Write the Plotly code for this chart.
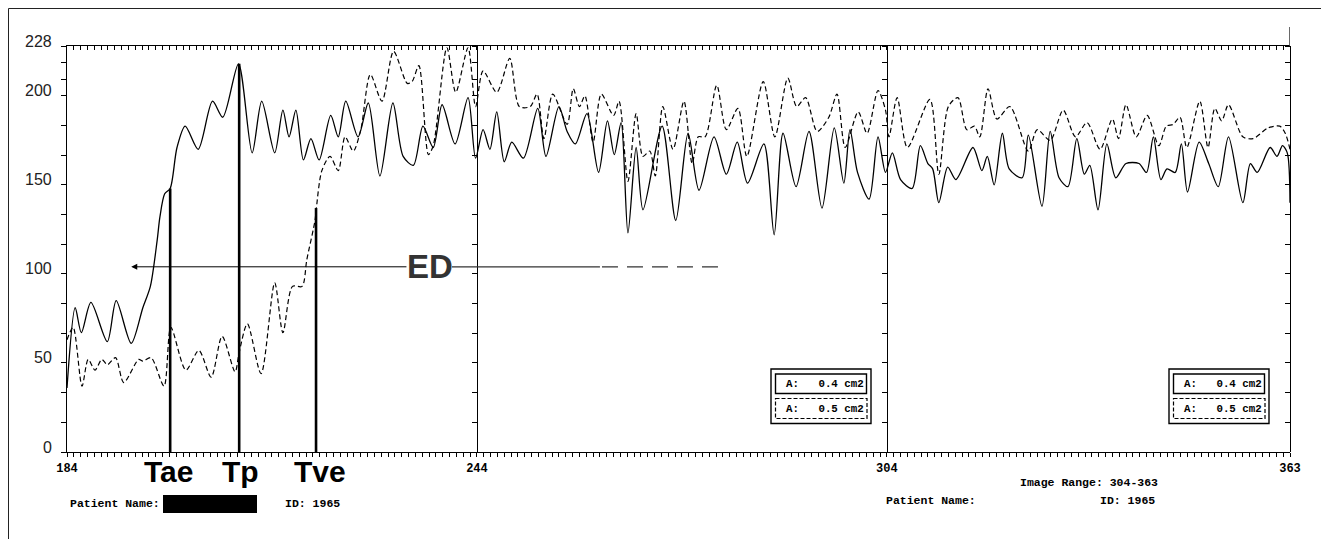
import plotly.graph_objects as go

# ---------------- data ----------------
solid_x = [184.0, 185.2, 186.1, 187.5, 189.9, 191.2, 193.4, 195.1, 196.2, 197.2, 197.6, 198.3, 199.1,
           200.1, 201.3, 203.2, 205.3, 206.8, 209.1, 211.1, 212.5, 214.4, 215.6, 216.5, 217.5, 218.6,
           219.7, 220.9, 222.6, 223.7, 224.8, 226.6, 228.1, 229.8, 231.7, 233.2, 234.7, 236.1, 237.6,
           238.9, 240.8, 242.7, 243.8, 244.9, 245.9, 246.9, 248.0, 249.1, 250.8, 252.9, 254.1, 256.0,
           257.2, 258.4, 260.1, 261.8, 263.1, 264.1, 265.1, 266.1, 267.3, 268.3, 271.1, 273.1, 274.9,
           276.5, 278.7, 280.5, 282.1, 283.6, 286.0, 287.5, 288.8, 290.7, 292.6, 294.5, 296.3, 297.7,
           298.6, 299.7, 301.4, 302.7, 303.8, 304.8, 306.0, 307.7, 308.9, 310.0, 310.7, 311.6, 312.9,
           314.1, 316.6, 317.9, 318.7, 319.7, 320.9, 321.9, 323.8, 324.7, 326.7, 327.9, 329.2, 330.5,
           331.8, 332.9, 333.7, 334.9, 336.2, 337.5, 339.0, 340.9, 342.0, 343.0, 344.1, 345.0, 346.2,
           347.1, 348.0, 349.7, 351.1, 352.5, 354.0, 356.1, 357.2, 358.2, 360.1, 361.1, 361.9, 362.6,
           363.0]
solid_y = [36, 81, 67, 84, 62, 85, 61, 81, 93, 119, 132, 145, 148,
           171, 183, 170, 197, 188, 218, 168, 197, 168, 192, 177, 192, 164,
           176, 164, 189, 177, 197, 177, 196, 155, 196, 166, 161, 183, 171,
           195, 173, 199, 165, 181, 170, 191, 163, 174, 165, 193, 166, 194,
           180, 173, 190, 157, 186, 167, 185, 123, 171, 136, 183, 130, 179,
           147, 177, 156, 174, 151, 173, 122, 179, 149, 180, 137, 182, 151,
           181, 157, 142, 177, 157, 168, 153, 148, 172, 162, 159, 140, 160,
           153, 171, 158, 166, 150, 179, 159, 154, 178, 138, 180, 154, 149,
           176, 156, 161, 136, 173, 154, 162, 162, 157, 177, 153, 159, 157,
           173, 146, 174, 162, 149, 177, 140, 162, 157, 171, 166, 172, 168,
           140]

dashed_x = [184.0, 184.9, 186.2, 187.1, 188.1, 189.1, 189.9, 191.1, 192.3, 194.5, 195.1, 196.3, 198.2,
            199.2, 201.4, 203.3, 205.1, 206.7, 208.6, 209.2, 210.4, 212.4, 214.4, 215.6, 217.0, 218.4,
            219.1, 220.3, 220.5, 221.3, 222.5, 223.7, 224.7, 225.9, 227.0, 228.4, 230.1, 231.8, 233.8,
            234.5, 235.5, 236.9, 237.6, 239.6, 240.9, 242.7, 243.8, 244.9, 246.9, 248.8, 250.2, 251.8,
            252.8, 253.8, 255.1, 257.2, 258.1, 259.0, 259.8, 261.0, 262.2, 264.0, 264.8, 266.1, 267.3,
            268.3, 269.3, 270.1, 271.2, 272.7, 274.3, 275.5, 276.4, 277.4, 279.1, 280.5, 282.2, 283.5,
            285.9, 287.6, 289.5, 290.8, 292.1, 293.8, 295.5, 296.7, 297.9, 299.8, 301.1, 302.7, 303.8,
            304.3, 305.5, 307.0, 310.3, 311.6, 313.0, 314.4, 315.7, 316.8, 317.6, 318.8, 320.1, 322.0,
            324.7, 326.0, 327.9, 329.8, 331.6, 333.3, 335.2, 337.0, 337.9, 339.0, 340.5, 342.1, 343.8,
            344.9, 345.9, 346.9, 347.9, 349.8, 351.0, 352.0, 353.0, 354.0, 356.1, 357.6, 359.8, 361.5,
            362.3, 363.0]
dashed_y = [63, 70, 37, 52, 46, 52, 49, 53, 39, 52, 51, 53, 37,
            70, 46, 57, 42, 65, 45, 56, 72, 44, 95, 67, 93, 93,
            108, 130, 137, 158, 166, 158, 177, 169, 181, 212, 197, 225, 207,
            208, 217, 167, 172, 227, 202, 227, 194, 214, 202, 221, 194, 194,
            201, 176, 201, 184, 204, 194, 200, 174, 201, 189, 197, 152, 190,
            166, 169, 155, 194, 170, 197, 162, 177, 177, 206, 181, 193, 166,
            208, 177, 210, 194, 199, 180, 188, 201, 171, 191, 179, 203, 192,
            177, 199, 171, 198, 156, 194, 199, 181, 183, 177, 204, 187, 194,
            169, 181, 175, 192, 177, 185, 170, 187, 176, 195, 177, 189, 172,
            183, 184, 188, 171, 197, 171, 193, 186, 195, 177, 176, 182, 183,
            179, 170]

marker_names = ["Tae", "Tp", "Tve"]
marker_x = [199.1, 209.2, 220.45]
marker_top = [148, 218, 137]

ed_level = 104
ed_arrow_tip = 193.4
ed_arrow_tail = 233.9
ed_solid = [240.35, 262.0]
ed_dashed = [262.3, 279.7]

panel_edges = [184, 244, 304, 363]
y_labels = [0, 50, 100, 150, 200, 228]
y_ticks = [0, 16.67, 33.33, 50, 66.67, 83.33, 100, 116.67, 133.33, 150, 166.67, 183.33, 200,
           209.33, 218.67, 228]
x_ticks = list(range(184, 364))
legend_items = ["A:   0.4 cm2", "A:   0.5 cm2"]

# ---------------- geometry helpers ----------------
OFF = 8                      # page body margin
W, H = 1329 - OFF, 539 - OFF
PL, PR, PT, PB = 67 - OFF, 1290 - OFF, 46 - OFF, 452 - OFF


def fx(px):
    return (max(px - OFF, 0.5) - PL) / (PR - PL)


def fy(py):
    return (PB - max(py - OFF, 0.5)) / (PB - PT)


fig = go.Figure()

fig.add_trace(go.Scatter(x=solid_x, y=solid_y, mode="lines",
                         line=dict(color="black", width=1.3, shape="spline", smoothing=0.8),
                         showlegend=False, hoverinfo="skip"))
fig.add_trace(go.Scatter(x=dashed_x, y=dashed_y, mode="lines",
                         line=dict(color="black", width=1.2, dash="5px,3px", shape="spline", smoothing=0.8),
                         showlegend=False, hoverinfo="skip"))

mx, my = [], []
for t, top in zip(marker_x, marker_top):
    mx += [t, t, None]
    my += [0, top, None]
fig.add_trace(go.Scatter(x=mx, y=my, mode="lines", line=dict(color="black", width=2.6),
                         showlegend=False, hoverinfo="skip"))

# dummy traces so the extra axes are drawn
fig.add_trace(go.Scatter(x=[], y=[], xaxis="x2", yaxis="y", showlegend=False))
for k in ["y2", "y3", "y4"]:
    fig.add_trace(go.Scatter(x=[], y=[], xaxis="x", yaxis=k, showlegend=False))

mono = "Liberation Mono, DejaVu Sans Mono, monospace"
xt_text = [f"<b>{v}</b>" if v in panel_edges else "" for v in x_ticks]

common_y = dict(range=[0, 228], showgrid=False, zeroline=False, showline=True, linecolor="black",
                linewidth=1.4, ticks="outside", ticklen=5, tickcolor="black", tickwidth=1,
                tickvals=y_ticks, showticklabels=False, fixedrange=True)

layout = dict(
    width=W, height=H, autosize=False,
    margin=dict(l=PL, r=W - PR, t=PT, b=H - PB, pad=0),
    plot_bgcolor="white", paper_bgcolor="white",
    xaxis=dict(range=[184, 363], showgrid=False, zeroline=False, showline=True, linecolor="black",
               linewidth=1.4, ticks="outside", ticklen=4, tickcolor="black", tickwidth=1,
               tickvals=x_ticks, ticktext=xt_text, tickangle=0,
               tickfont=dict(family=mono, size=12, color="black")),
    xaxis2=dict(range=[184, 363], overlaying="x", side="top", anchor="y", showgrid=False,
                zeroline=False, showline=True, linecolor="black", linewidth=1.4, ticks="inside",
                ticklen=4, tickcolor="black", tickwidth=1, tickvals=x_ticks, showticklabels=False),
    yaxis=dict(**common_y),
)
for i, edge in enumerate(panel_edges[1:], start=2):
    layout[f"yaxis{i}"] = dict(**common_y, overlaying="y", anchor="free", side="left",
                               position=(edge - panel_edges[0]) / (panel_edges[-1] - panel_edges[0]))
fig.update_layout(**layout)

ann = []
for v in y_labels:
    ann.append(dict(x=fx(54), xref="paper", y=v, yref="y", text=str(v), showarrow=False,
                    xanchor="right", yanchor="middle", yshift=5,
                    font=dict(family="Liberation Sans, Arial", size=16, color="#222")))

label_px = [168, 240, 320]
for name, lp in zip(marker_names, label_px):
    ann.append(dict(x=fx(lp), xref="paper", y=fy(471), yref="paper", text=f"<b>{name}</b>",
                    showarrow=False, xanchor="center", yanchor="middle",
                    font=dict(family="Liberation Sans, Arial", size=30, color="black")))

ann.append(dict(x=fx(430), xref="paper", y=ed_level, yref="y", text="<b>ED</b>", showarrow=False,
                xanchor="center", yanchor="middle",
                font=dict(family="Liberation Sans, Arial", size=33, color="#333")))
ann.append(dict(x=ed_arrow_tip, y=ed_level, xref="x", yref="y", ax=ed_arrow_tail, ay=ed_level,
                axref="x", ayref="y", text="", showarrow=True, arrowhead=2, arrowsize=1.2,
                arrowwidth=1, arrowcolor="black"))

tf = dict(family=mono, size=11.5, color="black")
ann.append(dict(x=fx(68), xref="paper", y=fy(503), yref="paper", text="<b>Patient Name:</b>",
                showarrow=False, xanchor="left", yanchor="middle", font=tf))
ann.append(dict(x=fx(283), xref="paper", y=fy(503), yref="paper", text="<b>ID: 1965</b>",
                showarrow=False, xanchor="left", yanchor="middle", font=tf))
ann.append(dict(x=fx(1018), xref="paper", y=fy(482), yref="paper", text="<b>Image Range: 304-363</b>",
                showarrow=False, xanchor="left", yanchor="middle", font=tf))
ann.append(dict(x=fx(884), xref="paper", y=fy(501), yref="paper", text="<b>Patient Name:</b>",
                showarrow=False, xanchor="left", yanchor="middle", font=tf))
ann.append(dict(x=fx(1098), xref="paper", y=fy(501), yref="paper", text="<b>ID: 1965</b>",
                showarrow=False, xanchor="left", yanchor="middle", font=tf))

shapes = []
# outer frame
shapes.append(dict(type="line", xref="paper", yref="paper", x0=fx(4), x1=fx(1326), y0=fy(7), y1=fy(7),
                   line=dict(color="#222", width=1)))
shapes.append(dict(type="line", xref="paper", yref="paper", x0=fx(4), x1=fx(4), y0=fy(7), y1=fy(545),
                   line=dict(color="#222", width=1)))
shapes.append(dict(type="line", xref="paper", yref="paper", x0=fx(1326), x1=fx(1326), y0=fy(7), y1=fy(545),
                   line=dict(color="#888", width=2)))
# right axis extension above top
shapes.append(dict(type="line", xref="x", yref="paper", x0=panel_edges[-1], x1=panel_edges[-1],
                   y0=1, y1=fy(27), line=dict(color="#444", width=1.6)))
# ED right part
shapes.append(dict(type="line", xref="x", yref="y", x0=ed_solid[0], x1=ed_solid[1], y0=ed_level,
                   y1=ed_level, line=dict(color="#333", width=1.2)))
shapes.append(dict(type="line", xref="x", yref="y", x0=ed_dashed[0], x1=ed_dashed[1], y0=ed_level,
                   y1=ed_level, line=dict(color="#333", width=1.2, dash="16px,9px")))
# redaction block
shapes.append(dict(type="rect", xref="paper", yref="paper", x0=fx(163), x1=fx(257), y0=fy(495),
                   y1=fy(513), fillcolor="black", line=dict(width=0)))

# legend boxes
for bx in [771, 1169]:
    shapes.append(dict(type="rect", xref="paper", yref="paper", x0=fx(bx), x1=fx(bx + 100),
                       y0=fy(369), y1=fy(423.5), line=dict(color="black", width=1.4)))
    shapes.append(dict(type="rect", xref="paper", yref="paper", x0=fx(bx + 4.5), x1=fx(bx + 95.5),
                       y0=fy(374), y1=fy(393.5), line=dict(color="black", width=1.4)))
    shapes.append(dict(type="rect", xref="paper", yref="paper", x0=fx(bx + 4.5), x1=fx(bx + 96),
                       y0=fy(398.5), y1=fy(418.5), line=dict(color="black", width=1.2, dash="4px,2px")))
    for txt, cy in zip(legend_items, [384, 409]):
        ann.append(dict(x=fx(bx + 12.5), xref="paper", y=fy(cy), yref="paper",
                        text=f"<b>{txt}</b>", showarrow=False, xanchor="left", yanchor="middle",
                        font=dict(family=mono, size=10.8, color="black")))

fig.update_layout(annotations=ann, shapes=shapes)
fig.write_html("out.html")
